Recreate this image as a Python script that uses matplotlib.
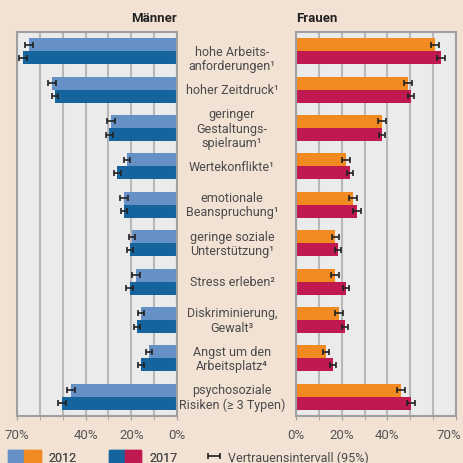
import matplotlib.pyplot as plt
from matplotlib.legend_handler import HandlerTuple
from matplotlib.patches import Patch

plt.rcParams['font.family'] = ['Roboto', 'DejaVu Sans']

labels = ["hohe Arbeits-\nanforderungen¹", "hoher Zeitdruck¹",
          "geringer\nGestaltungs-\nspielraum¹", "Wertekonflikte¹",
          "emotionale\nBeanspruchung¹", "geringe soziale\nUnterstützung¹",
          "Stress erleben²", "Diskriminierung,\nGewalt³",
          "Angst um den\nArbeitsplatz⁴", "psychosoziale\nRisiken (≥ 3 Typen)"]

men_2012 = [64.6, 54.7, 28.9, 21.9, 23.2, 19.7, 17.9, 15.7, 12.2, 46.4]
men_2017 = [67.4, 53.4, 29.7, 26.2, 23.2, 20.6, 20.6, 17.5, 15.7, 50.3]
women_2012 = [60.8, 49.0, 37.6, 21.9, 24.9, 17.1, 17.1, 18.8, 13.1, 45.9]
women_2017 = [63.4, 50.3, 37.6, 23.6, 26.7, 18.4, 21.9, 21.4, 16.2, 50.3]
men_err_2012 = [1.7, 1.7, 1.6, 1.5, 1.6, 1.5, 1.6, 1.4, 1.3, 1.8]
men_err_2017 = [1.6, 1.5, 1.5, 1.5, 1.4, 1.3, 1.5, 1.4, 1.3, 1.8]
women_err_2012 = [1.7, 1.8, 1.8, 1.6, 1.7, 1.5, 1.6, 1.6, 1.4, 1.9]
women_err_2017 = [1.6, 1.5, 1.5, 1.5, 1.6, 1.3, 1.4, 1.4, 1.3, 1.7]

c_m12, c_m17 = '#6591c7', '#15649e'
c_w12, c_w17 = '#f18a21', '#c0194f'
bg = '#f2e2d4'
txt = '#4a4a4a'

fig = plt.figure(figsize=(4.64, 4.64), dpi=100, facecolor=bg)
ax_m = fig.add_axes([17/464, 47/464, 160/464, 384/464])
ax_w = fig.add_axes([296/464, 47/464, 160/464, 384/464])

y = list(range(len(labels)))
y12 = [v - 0.17 for v in y]
y17 = [v + 0.17 for v in y]
h = 0.34

for ax, d12, d17, e12, e17, c12, c17 in [
        (ax_m, men_2012, men_2017, men_err_2012, men_err_2017, c_m12, c_m17),
        (ax_w, women_2012, women_2017, women_err_2012, women_err_2017, c_w12, c_w17)]:
    ax.set_facecolor('#ebebeb')
    ax.barh(y12, d12, height=h, color=c12, zorder=2)
    ax.barh(y17, d17, height=h, color=c17, zorder=2)
    eb = ax.errorbar(d12, y12, xerr=e12, fmt='none', ecolor='#222222',
                     elinewidth=1.2, capsize=2.5, capthick=1.2, zorder=3)
    ax.errorbar(d17, y17, xerr=e17, fmt='none', ecolor='#222222',
                elinewidth=1.2, capsize=2.5, capthick=1.2, zorder=3)
    ax.set_xlim(0, 70)
    ax.set_ylim(9.5, -0.5)
    ax.set_xticks(range(0, 71, 10), minor=True)
    ax.set_xticks([0, 20, 40, 70])
    ax.set_xticklabels(['0%', '20%', '40%', '70%'])
    ax.grid(True, axis='x', which='both', color='#b8b8b8', lw=1.5, zorder=1)
    ax.set_yticks([])
    ax.tick_params(axis='x', which='both', length=3, color='#a0a0a0',
                   labelsize=9.5, labelcolor='#555555', pad=6)
    for s in ax.spines.values():
        s.set_color('#a0a0a0')
        s.set_linewidth(1.5)

ax_m.invert_xaxis()

# the right-most "70%" sits a little left so it stays inside the picture
ax_w.set_xticklabels(['0%', '20%', '40%', ''])
ax_w.annotate('70%', xy=(70, 0), xycoords=('data', 'axes fraction'),
              xytext=(-5, -9), textcoords='offset points', ha='center',
              va='top', fontsize=9.5, color='#555555', annotation_clip=False)

ax_m.set_title('Männer', loc='right', fontsize=9.5, fontweight='bold',
               color='#222222', pad=8)
ax_w.set_title('Frauen', loc='left', fontsize=9.5, fontweight='bold',
               color='#222222', pad=8)

# category labels between the two panels
for i, lab in enumerate(labels):
    yy = i + 0.2 if i == 0 else i
    ax_m.annotate(lab, xy=(0.5, yy), xycoords=('figure fraction', 'data'),
                  ha='center', va='center', fontsize=9, color=txt,
                  linespacing=1.12, annotation_clip=False)

handles = [(Patch(color=c_m12), Patch(color=c_w12)),
           (Patch(color=c_m17), Patch(color=c_w17))]
leg = fig.legend(handles, ['2012', '2017'],
                 handler_map={tuple: HandlerTuple(ndivide=None, pad=0)},
                 loc='center left', bbox_to_anchor=(8/464, 6/464), ncol=2,
                 frameon=False, fontsize=9, labelcolor=txt,
                 borderpad=0, borderaxespad=0,
                 handlelength=2.6, handleheight=1.15, handletextpad=0.64,
                 columnspacing=2.55)
fig.legend([eb], ['Vertrauensintervall (95%)'],
           loc='center left', bbox_to_anchor=(206/464, 6/464),
           frameon=False, fontsize=9, labelcolor=txt,
           borderpad=0, borderaxespad=0,
           handlelength=1.25, handletextpad=0.55)
fig.add_artist(leg)

fig.savefig('out.png', dpi=100, facecolor=bg)
